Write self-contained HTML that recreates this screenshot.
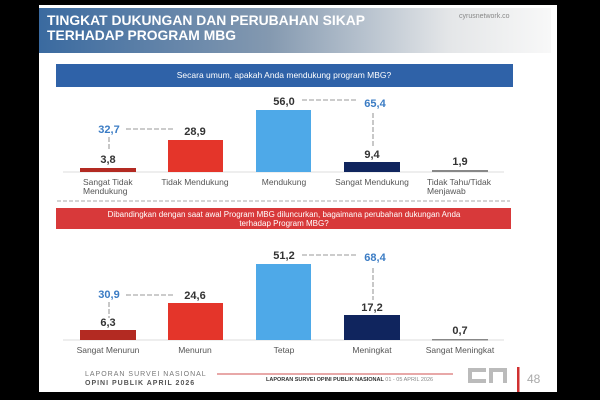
<!DOCTYPE html>
<html><head><meta charset="utf-8"><style>
html,body{margin:0;padding:0;background:#000;width:600px;height:400px;overflow:hidden}
svg{display:block}
text{font-family:"Liberation Sans",sans-serif}
</style></head><body>
<svg width="600" height="400" viewBox="0 0 600 400" xmlns="http://www.w3.org/2000/svg">
<defs>
<linearGradient id="hg" x1="0" x2="1" y1="0" y2="0">
<stop offset="0" stop-color="#3a6aa0"/><stop offset="0.45" stop-color="#8499b0"/><stop offset="0.8" stop-color="#e4e6e8"/><stop offset="1" stop-color="#f8f8f8"/>
</linearGradient>
</defs>
<rect x="0" y="0" width="600" height="400" fill="#000"/>
<rect x="39" y="5" width="518" height="387" fill="#fff"/>
<rect x="39" y="8" width="512" height="45" fill="url(#hg)"/>
<text x="47" y="25" font-size="14" font-weight="bold" fill="#fff" textLength="318" lengthAdjust="spacingAndGlyphs">TINGKAT DUKUNGAN DAN PERUBAHAN SIKAP</text>
<text x="47" y="40" font-size="14" font-weight="bold" fill="#fff" textLength="189" lengthAdjust="spacingAndGlyphs">TERHADAP PROGRAM MBG</text>
<text x="459" y="18" font-size="7" fill="#888">cyrusnetwork.co</text>

<rect x="56" y="64" width="457" height="23" fill="#2f62a8"/>
<text x="284" y="78" font-size="8.5" fill="#fff" text-anchor="middle">Secara umum, apakah Anda mendukung program MBG?</text>

<line x1="63" y1="172" x2="504" y2="172" stroke="#ddd" stroke-width="1"/>
<rect x="80" y="168" width="56" height="4" fill="#b32a22"/>
<rect x="168" y="140" width="55" height="32" fill="#e4352a"/>
<rect x="256" y="110" width="55" height="62" fill="#4ea9e8"/>
<rect x="344" y="162" width="56" height="10" fill="#10255e"/>
<rect x="432" y="170" width="56" height="2" fill="#888"/>
<g font-size="11" font-weight="bold" fill="#333" text-anchor="middle">
<text x="108" y="163">3,8</text><text x="195" y="135">28,9</text><text x="284" y="105">56,0</text><text x="372" y="158">9,4</text><text x="460" y="165">1,9</text>
</g>
<g font-size="11" font-weight="bold" fill="#3b7cc4" text-anchor="middle">
<text x="109" y="133">32,7</text><text x="375" y="107">65,4</text>
</g>
<g stroke="#bbb" stroke-width="1.6" stroke-dasharray="5,2" fill="none">
<line x1="126" y1="129" x2="174" y2="129"/><line x1="109" y1="137" x2="109" y2="151"/>
<line x1="302" y1="100" x2="358" y2="100"/><line x1="373" y1="113" x2="373" y2="148"/>
</g>
<g font-size="8.5" fill="#555" text-anchor="middle">
<text x="83" y="185" text-anchor="start">Sangat Tidak</text><text x="83" y="194" text-anchor="start">Mendukung</text>
<text x="195" y="185">Tidak Mendukung</text>
<text x="284" y="185">Mendukung</text>
<text x="372" y="185">Sangat Mendukung</text>
<text x="427" y="185" text-anchor="start">Tidak Tahu/Tidak</text><text x="427" y="194" text-anchor="start">Menjawab</text>
</g>

<line x1="57" y1="201" x2="510" y2="201" stroke="#bbb" stroke-width="1.2" stroke-dasharray="4,2"/>
<rect x="56" y="208" width="455" height="21" fill="#d8393a"/>
<text x="284" y="217" font-size="8" fill="#fff" text-anchor="middle">Dibandingkan dengan saat awal Program MBG diluncurkan, bagaimana perubahan dukungan Anda</text>
<text x="284" y="226" font-size="8" fill="#fff" text-anchor="middle">terhadap Program MBG?</text>

<line x1="63" y1="340" x2="504" y2="340" stroke="#ddd" stroke-width="1"/>
<rect x="80" y="330" width="56" height="10" fill="#b32a22"/>
<rect x="168" y="303" width="55" height="37" fill="#e4352a"/>
<rect x="256" y="264" width="55" height="76" fill="#4ea9e8"/>
<rect x="344" y="315" width="56" height="25" fill="#10255e"/>
<rect x="432" y="339" width="56" height="1.5" fill="#888"/>
<g font-size="11" font-weight="bold" fill="#333" text-anchor="middle">
<text x="108" y="326">6,3</text><text x="195" y="299">24,6</text><text x="284" y="259">51,2</text><text x="372" y="311">17,2</text><text x="460" y="334">0,7</text>
</g>
<g font-size="11" font-weight="bold" fill="#3b7cc4" text-anchor="middle">
<text x="109" y="298">30,9</text><text x="375" y="261">68,4</text>
</g>
<g stroke="#bbb" stroke-width="1.6" stroke-dasharray="5,2" fill="none">
<line x1="126" y1="295" x2="174" y2="295"/><line x1="109" y1="302" x2="109" y2="318"/>
<line x1="302" y1="255" x2="358" y2="255"/><line x1="373" y1="268" x2="373" y2="300"/>
</g>
<g font-size="8.5" fill="#555" text-anchor="middle">
<text x="108" y="353">Sangat Menurun</text>
<text x="195" y="353">Menurun</text>
<text x="284" y="353">Tetap</text>
<text x="372" y="353">Meningkat</text>
<text x="460" y="353">Sangat Meningkat</text>
</g>

<text x="85" y="376" font-size="7" fill="#777" letter-spacing="1">LAPORAN SURVEI NASIONAL</text>
<text x="85" y="385" font-size="7" font-weight="bold" fill="#555" letter-spacing="1">OPINI PUBLIK APRIL 2026</text>
<line x1="217" y1="374" x2="453" y2="374" stroke="#d05050" stroke-width="1"/>
<text x="266" y="381" font-size="5.5" font-weight="bold" fill="#333">LAPORAN SURVEI OPINI PUBLIK NASIONAL <tspan font-weight="normal" fill="#888">01 - 05 APRIL 2026</tspan></text>
<g fill="#bbb">
<rect x="468" y="368" width="18" height="4"/><rect x="468" y="368" width="4" height="15"/><rect x="468" y="379" width="18" height="4"/>
<rect x="489" y="368" width="4" height="15"/><rect x="503" y="368" width="4" height="15"/><rect x="489" y="368" width="18" height="4"/>
</g>
<rect x="517" y="367" width="2.5" height="25" fill="#d03030"/>
<text x="527" y="383" font-size="12" fill="#aaa">48</text>
</svg>
</body></html>
